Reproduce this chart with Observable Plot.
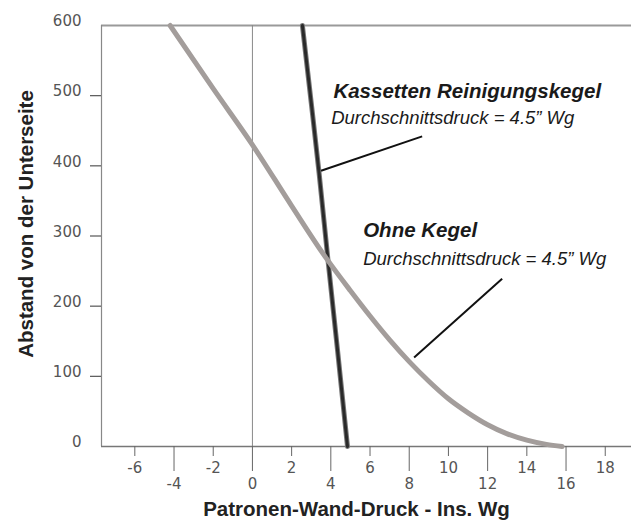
<!DOCTYPE html>
<html><head><meta charset="utf-8">
<script src="https://cdn.jsdelivr.net/npm/d3@7"></script>
<script src="https://cdn.jsdelivr.net/npm/@observablehq/plot@0.6"></script>
<style>body{margin:0;background:#fff} #chart svg{display:block}</style>
</head><body><div id="chart"></div>
<script>
// Scales
const xDomain = [-7.7, 19.34];
const yDomain = [0, 600];
const yTickLabels = [0, 100, 200, 300, 400, 500, 600];
const yTickMarks = [100, 200, 300, 400, 500];
const xTicksUpper = [-6, -2, 2, 6, 10, 14, 18];
const xTicksLower = [-4, 0, 4, 8, 12, 16];

// Series: "Ohne Kegel" (gray curve)
const ohneX = [-4.2, -2, 0, 2, 3.8, 5, 6, 7, 8, 9, 10, 11, 12, 13, 14, 15, 15.8];
const ohneY = [600, 510, 430, 343, 267, 222, 186, 152, 121, 93, 68, 48, 31, 18, 9, 3, 0];

// Series: "Kassetten Reinigungskegel" (dark line)
const kassX = [2.55, 3.0, 3.4, 3.85, 4.35, 4.85];
const kassY = [600, 490, 390, 267, 135, 0];

// Annotations
const annoTitles = ["Kassetten Reinigungskegel", "Ohne Kegel"];
const annoTitleX = [4.13, 5.65];
const annoTitleY = [496, 298];
const annoSubs = ["Durchschnittsdruck = 4.5” Wg", "Durchschnittsdruck = 4.5” Wg"];
const annoSubX = [4.02, 5.65];
const annoSubY = [460, 259];
const leaderX1 = [8.66, 12.74];
const leaderY1 = [442, 239];
const leaderX2 = [3.5, 8.25];
const leaderY2 = [393, 127];

const xTitle = "Patronen-Wand-Druck - Ins. Wg";
const yTitle = "Abstand von der Unterseite";

const ohne = ohneX.map((x, i) => ({x, y: ohneY[i]}));
const kass = kassX.map((x, i) => ({x, y: kassY[i]}));
const fmt = d => String(d);
const tickFont = "'DejaVu Sans', sans-serif";

const plot = Plot.plot({
  width: 631, height: 520,
  marginLeft: 101, marginRight: 0, marginTop: 25, marginBottom: 74,
  x: {domain: xDomain},
  y: {domain: yDomain},
  style: {fontFamily: "'Liberation Sans', Arial, sans-serif", background: "#fff", overflow: "visible"},
  marks: [
    Plot.ruleY([yDomain[1]], {stroke: "#9a9a9a", strokeWidth: 2}),
    Plot.ruleX([xDomain[0]], {stroke: "#888", strokeWidth: 1.2}),
    Plot.ruleX([0], {stroke: "#8a8a8a", strokeWidth: 1}),
    Plot.ruleY([0], {stroke: "#777", strokeWidth: 1.5}),
    Plot.axisY({ticks: yTickMarks, tickSize: 11, tickFormat: () => "", stroke: "#555", strokeWidth: 1.2, label: null}),
    Plot.axisY({ticks: yTickLabels, tickSize: 0, tickPadding: 20, dy: -4, fontSize: 15, fontFamily: tickFont, fill: "#555", tickFormat: fmt, label: null}),
    Plot.axisX({ticks: xTicksUpper, tickSize: 10, tickPadding: 6, fontSize: 15, fontFamily: tickFont, stroke: "#666", fill: "#555", tickFormat: fmt, label: null}),
    Plot.axisX({ticks: xTicksLower, tickSize: 25, tickPadding: 7, fontSize: 15, fontFamily: tickFont, stroke: "#666", fill: "#555", tickFormat: fmt, label: null}),
    Plot.line(kass, {x: "x", y: "y", curve: "monotone-x", stroke: "#777", strokeWidth: 5}),
    Plot.line(kass, {x: "x", y: "y", curve: "monotone-x", stroke: "#2a2a2a", strokeWidth: 3}),
    Plot.line(ohne, {x: "x", y: "y", curve: "monotone-x", stroke: "#a39d9b", strokeWidth: 5}),
    Plot.link(leaderX1, {x1: leaderX1, y1: leaderY1, x2: leaderX2, y2: leaderY2, stroke: "#111", strokeWidth: 2}),
    Plot.text(annoTitles, {x: annoTitleX, y: annoTitleY, text: d => d, textAnchor: "start", lineAnchor: "bottom", fontSize: 20.5, fontWeight: "bold", fontStyle: "italic", fill: "#1a1a1a"}),
    Plot.text(annoSubs, {x: annoSubX, y: annoSubY, text: d => d, textAnchor: "start", lineAnchor: "bottom", fontSize: 18.5, fontStyle: "italic", fill: "#1a1a1a"}),
    Plot.text([xTitle], {frameAnchor: "bottom", text: d => d, textAnchor: "middle", lineAnchor: "bottom", dx: -10, dy: 69, fontSize: 20.5, fontWeight: "bold", fill: "#222"}),
    Plot.text([yTitle], {frameAnchor: "left", text: d => d, rotate: -90, textAnchor: "middle", lineAnchor: "bottom", dx: -69, dy: -12, fontSize: 20.5, fontWeight: "bold", fill: "#222"})
  ]
});
document.getElementById("chart").append(plot);
</script>
</body></html>
